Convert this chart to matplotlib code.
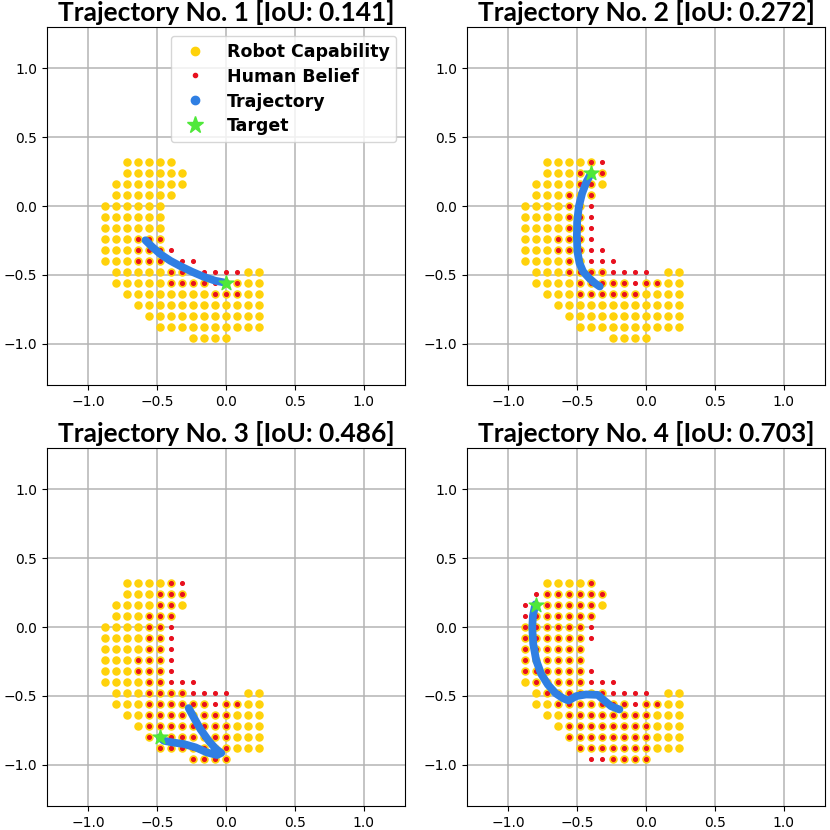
import numpy as np
import matplotlib
matplotlib.use('Agg')
import matplotlib.pyplot as plt
from matplotlib.lines import Line2D

# grid of workspace cells (x columns, y rows)
grid_x = [-0.88, -0.80, -0.72, -0.64, -0.56, -0.48, -0.40, -0.32,
          -0.24, -0.16, -0.08, 0.00, 0.08, 0.16, 0.24]
grid_y = [0.32, 0.24, 0.16, 0.08, 0.00, -0.08, -0.16, -0.24, -0.32,
          -0.40, -0.48, -0.56, -0.64, -0.72, -0.80, -0.88, -0.96]

# robot capability (same in every panel)
capability = [
    "..#####........",
    "..######.......",
    ".#######.......",
    ".######........",
    "######.........",
    "######.........",
    "######.........",
    "######.........",
    "######.........",
    "######.........",
    ".#######.....##",
    ".#########.####",
    "..#############",
    "...############",
    "....###########",
    ".....##########",
    "........####...",
]

belief_1 = [
    "...............",
    "...............",
    "...............",
    "...............",
    "...............",
    "...............",
    "...............",
    "...###.........",
    "...####........",
    "...######......",
    "......#######..",
    "......#######..",
    "..........###..",
    "...............",
    "...............",
    "...............",
    "...............",
]
belief_2 = [
    "......##.......",
    ".....###.......",
    ".....##........",
    "....###........",
    "....###........",
    "....###........",
    "....###........",
    "...####........",
    "...#####.......",
    "....#####......",
    "....########...",
    ".....########..",
    ".....######....",
    "...............",
    "...............",
    "...............",
    "...............",
]
belief_3 = [
    "......##.......",
    ".....###.......",
    ".....##........",
    "....###........",
    "....###........",
    "....###........",
    "....###........",
    "...####........",
    "...####........",
    "....#####......",
    "....########...",
    "....#########..",
    "....########...",
    "....########...",
    "....########...",
    ".....#######...",
    "........####...",
]
belief_4 = [
    "......#........",
    ".#######.......",
    "#######........",
    "#######........",
    "#######........",
    "#######........",
    "######.........",
    "######.........",
    "#######........",
    ".########......",
    "..##########...",
    "...##########..",
    "....########...",
    "....########...",
    "....########...",
    ".....#######...",
    "......######...",
]

# trajectories
traj_1_x = [-0.585, -0.536, -0.476, -0.404, -0.331, -0.246, -0.162, -0.078, 0.0]
traj_1_y = [-0.249, -0.297, -0.350, -0.398, -0.437, -0.478, -0.514, -0.543, -0.558]
traj_2_x = [-0.401, -0.432, -0.464, -0.488, -0.500, -0.502, -0.498, -0.483, -0.457, -0.408, -0.372, -0.336]
traj_2_y = [0.234, 0.176, 0.092, -0.005, -0.114, -0.222, -0.331, -0.415, -0.476, -0.529, -0.560, -0.585]
traj_3_x = [-0.271, -0.234, -0.186, -0.126, -0.077, -0.034, -0.065, -0.138, -0.222, -0.307, -0.391, -0.452, -0.481]
traj_3_y = [-0.589, -0.657, -0.742, -0.826, -0.882, -0.915, -0.930, -0.911, -0.874, -0.850, -0.838, -0.826, -0.802]
traj_4_x = [-0.804, -0.821, -0.826, -0.819, -0.797, -0.761, -0.713, -0.657, -0.604, -0.563,
            -0.507, -0.435, -0.350, -0.309, -0.254, -0.193]
traj_4_y = [0.164, 0.082, -0.002, -0.123, -0.244, -0.341, -0.418, -0.481, -0.517, -0.534,
            -0.502, -0.490, -0.493, -0.529, -0.575, -0.599]

targets_x = [0.0, -0.40, -0.48, -0.80]
targets_y = [-0.56, 0.24, -0.80, 0.16]
ious = [0.141, 0.272, 0.486, 0.703]

beliefs = [belief_1, belief_2, belief_3, belief_4]
trajs = [(traj_1_x, traj_1_y), (traj_2_x, traj_2_y), (traj_3_x, traj_3_y), (traj_4_x, traj_4_y)]

YELLOW = '#ffd20a'
RED = '#e8101e'
BLUE = '#2f7fe3'
GREEN = '#4fe83a'


def mask_points(mask):
    xs, ys = [], []
    for i, row in enumerate(mask):
        for j, c in enumerate(row):
            if c == '#':
                xs.append(grid_x[j])
                ys.append(grid_y[i])
    return np.array(xs), np.array(ys)


def main():
    fig = plt.figure(figsize=(8.3, 8.3), dpi=100)
    W = 830.
    rects = [[47/W, 445/W, 358/W, 358/W], [467/W, 445/W, 358/W, 358/W],
             [47/W, 24/W, 358/W, 358/W], [467/W, 24/W, 358/W, 358/W]]
    cx, cy = mask_points(capability)
    for k in range(4):
        ax = fig.add_axes(rects[k])
        ax.set_axisbelow(True)
        ax.grid(True, color='#b4b4b4', lw=1.1)
        ax.scatter(cx, cy, s=26, color=YELLOW, zorder=2, label='Robot Capability')
        bx, by = mask_points(beliefs[k])
        ax.scatter(bx, by, s=7, color=RED, zorder=3, label='Human Belief')
        tx, ty = trajs[k]
        ax.plot(tx, ty, color=BLUE, lw=5.6, solid_capstyle='round',
                solid_joinstyle='round', zorder=4)
        ax.scatter([targets_x[k]], [targets_y[k]], s=120, marker='*',
                   color=GREEN, zorder=5, label='Target')
        ax.set_xlim(-1.3, 1.3)
        ax.set_ylim(-1.3, 1.3)
        ax.set_xticks([-1.0, -0.5, 0.0, 0.5, 1.0])
        ax.set_yticks([-1.0, -0.5, 0.0, 0.5, 1.0])
        ax.set_title('Trajectory No. %d [IoU: %.3f]' % (k + 1, ious[k]),
                     fontsize=19, fontweight='bold', family=['Lato', 'DejaVu Sans'], pad=4)
        if k == 0:
            handles = [
                Line2D([], [], ls='none', marker='o', ms=6, color=YELLOW),
                Line2D([], [], ls='none', marker='o', ms=3, color=RED),
                Line2D([], [], ls='none', marker='o', ms=6, color=BLUE),
                Line2D([], [], ls='none', marker='*', ms=12.5, color=GREEN),
            ]
            ax.legend(handles, ['Robot Capability', 'Human Belief', 'Trajectory', 'Target'],
                      loc='upper right', prop={'weight': 'bold', 'size': 12.5},
                      labelspacing=0.4)
    fig.savefig('out.png', dpi=100)


if __name__ == '__main__':
    main()
